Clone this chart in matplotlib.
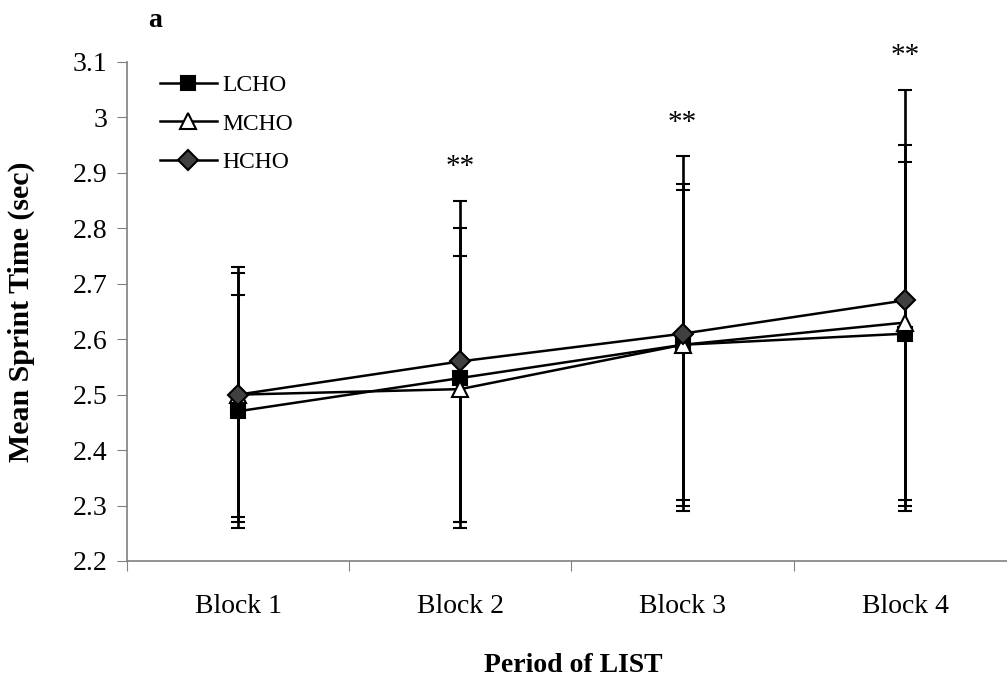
import numpy as np
import matplotlib
matplotlib.use("Agg")
import matplotlib.pyplot as plt
import matplotlib.ticker as ticker
from matplotlib.lines import Line2D

# Data
blocks = ["Block 1", "Block 2", "Block 3", "Block 4"]
lcho_mean = [2.47, 2.53, 2.59, 2.61]
lcho_sd = [0.21, 0.27, 0.29, 0.31]
mcho_mean = [2.50, 2.51, 2.59, 2.63]
mcho_sd = [0.22, 0.24, 0.28, 0.32]
hcho_mean = [2.50, 2.56, 2.61, 2.67]
hcho_sd = [0.23, 0.29, 0.32, 0.38]
sig_labels = ["", "**", "**", "**"]

plt.rcParams["font.family"] = ["Liberation Serif", "DejaVu Serif"]

fig = plt.figure(figsize=(10.07, 6.79), dpi=100)
ax = fig.add_axes([0.126, 0.1738, 0.874, 0.7349])

x = np.arange(1, len(blocks) + 1)
series = [
    ("LCHO", lcho_mean, lcho_sd, dict(marker="s", markersize=10, markerfacecolor="black")),
    ("MCHO", mcho_mean, mcho_sd, dict(marker="^", markersize=11, markerfacecolor="white")),
    ("HCHO", hcho_mean, hcho_sd, dict(marker="D", markersize=10, markerfacecolor="#404040")),
]
handles = []
for name, mean, sd, style in series:
    ax.errorbar(x, mean, yerr=sd, color="black", linewidth=1.8, elinewidth=1.9,
                capsize=5, capthick=1.7, markeredgecolor="black",
                markeredgewidth=1.5, **style)
    handles.append(Line2D([], [], color="black", linewidth=1.8,
                          markeredgecolor="black", markeredgewidth=1.5,
                          label=name, **style))

# significance markers above the tallest error bar
for i, lab in enumerate(sig_labels):
    if lab:
        top = max(m[i] + s[i] for _, m, s, _ in series)
        ax.text(x[i], top + 0.06, lab, ha="center", va="center",
                fontsize=21, clip_on=False)

ax.set_xlim(0.5, 4.459)
ax.set_ylim(2.2, 3.1)
ax.yaxis.set_major_locator(ticker.MultipleLocator(0.1))
ax.yaxis.set_major_formatter(ticker.FuncFormatter(lambda v, p: f"{round(v, 2):g}"))
ax.set_xticks([0.5, 1.5, 2.5, 3.5])
ax.set_xticklabels([])
ax.set_xticks(x, minor=True)
ax.set_xticklabels(blocks, minor=True)
ax.tick_params(axis="x", which="minor", length=0, pad=24, labelsize=20)
ax.tick_params(axis="x", which="major", length=7, color="#808080", direction="out")
ax.tick_params(axis="y", length=7, color="#808080", direction="out", labelsize=20, pad=7)

for side in ["top", "right"]:
    ax.spines[side].set_visible(False)
for side in ["left", "bottom"]:
    ax.spines[side].set_color("#808080")
    ax.spines[side].set_linewidth(1.2)

ax.set_ylabel("Mean Sprint Time (sec)", fontsize=21.5, fontweight="bold")
ax.yaxis.set_label_coords(-0.1045, 0.5)
ax.set_xlabel("Period of LIST", fontsize=20, fontweight="bold")
ax.xaxis.set_label_coords(0.507, -0.184)

ax.legend(handles=handles, loc="upper left", frameon=False, fontsize=17,
          bbox_to_anchor=(0.027, 0.994), borderaxespad=0, handlelength=2.4,
          handletextpad=0.25, labelspacing=0.73)

fig.text(0.154, 0.97, "a", fontsize=20, fontweight="bold", ha="center", va="center")

fig.savefig("out.png", dpi=100)
